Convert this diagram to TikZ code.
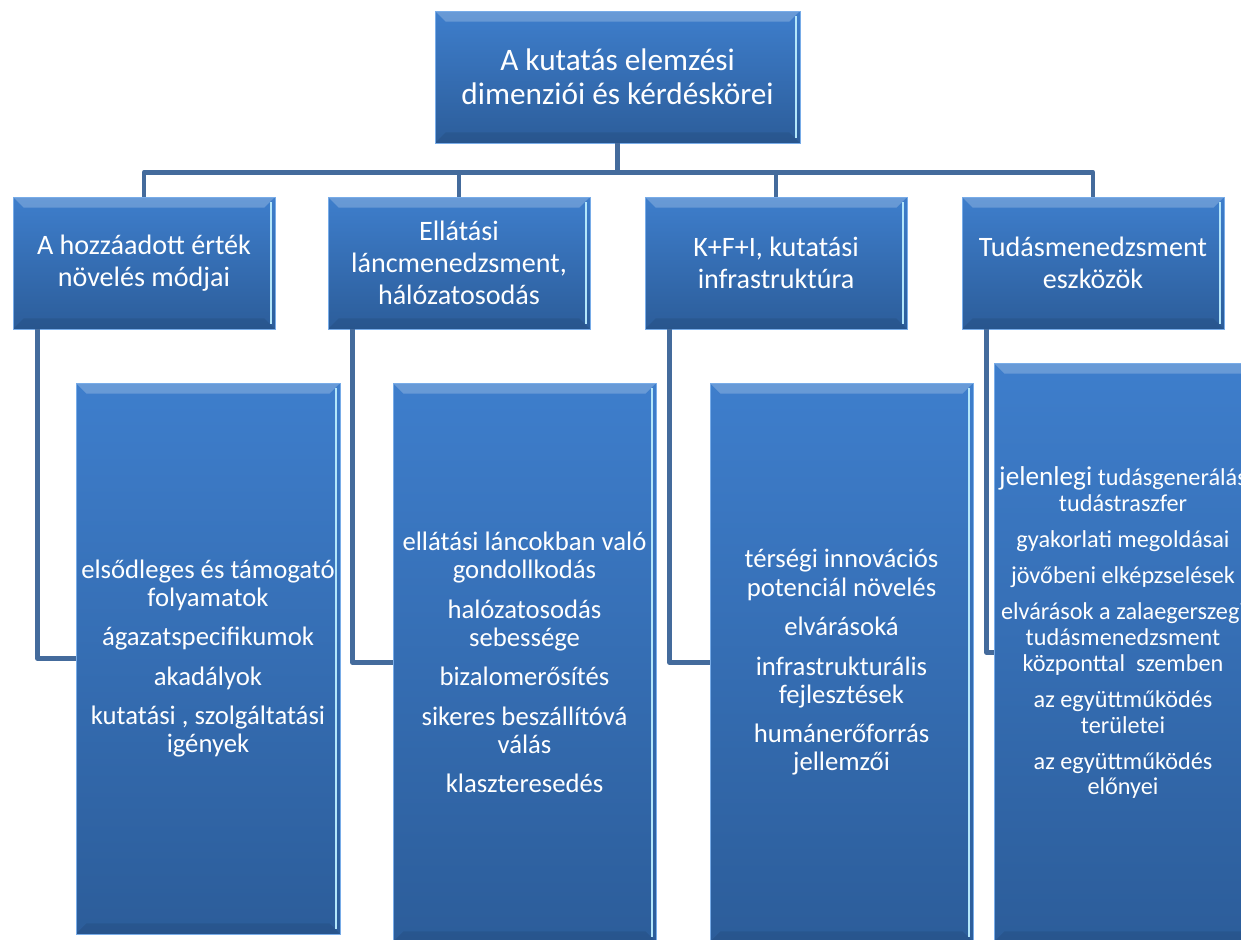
\documentclass[tikz,border=0pt]{standalone}
\usepackage{fontspec}
\setmainfont{Carlito}
\usepackage{xcolor}
\usepackage{tikz}
\usetikzlibrary{calc}
\definecolor{boxtop}{RGB}{62,126,204}
\definecolor{boxbottom}{RGB}{44,93,154}
\definecolor{boxedge}{RGB}{120,172,232}
\definecolor{linkblue}{RGB}{68,107,156}
\tikzstyle{bluebox} = [rectangle, draw=boxedge, line width=0.5pt,
top color=boxtop, bottom color=boxbottom, text=white, align=center,
inner sep=0pt, path picture={
  \fill[white, opacity=0.22] (path picture bounding box.north west) --
    (path picture bounding box.north east) --
    ([xshift=-6pt,yshift=-6pt]path picture bounding box.north east) --
    ([xshift=6pt,yshift=-6pt]path picture bounding box.north west) -- cycle;
  \fill[black, opacity=0.08] (path picture bounding box.south west) --
    (path picture bounding box.south east) --
    ([xshift=-6pt,yshift=6pt]path picture bounding box.south east) --
    ([xshift=6pt,yshift=6pt]path picture bounding box.south west) -- cycle;
  \draw[white!70!cyan, line width=1.2pt]
    ([xshift=-2.5pt,yshift=-3pt]path picture bounding box.north east) --
    ([xshift=-2.5pt,yshift=3pt]path picture bounding box.south east);
}]
\tikzstyle{rootbox} = [bluebox, minimum width=7.3cm, minimum height=2.64cm,
font=\fontsize{17.8}{19.5}\selectfont]
\tikzstyle{dimbox} = [bluebox, minimum width=5.24cm, minimum height=2.64cm,
font=\fontsize{16}{18.2}\selectfont]
\tikzstyle{itembox} = [bluebox, minimum width=5.26cm, minimum height=11.18cm,
font=\fontsize{15.2}{16}\selectfont]

\tikzstyle{link} = [draw=linkblue, line width=2.7pt, line join=round]

\begin{document}
\begin{tikzpicture}[x=0.02cm, y=-0.02cm]
    \useasboundingbox (0,0) rectangle (1241,940);
    \node [rootbox] (root) at (617.5,77) {A kutatás elemzési\\dimenziói és kérdéskörei};

    \node [dimbox] (ertek) at (144,263) {A hozzáadott érték\\növelés módjai};
    \node [dimbox] (lanc) at (459,263) {Ellátási\\láncmenedzsment,\\hálózatosodás};
    \node [dimbox] (kfi) at (776,263) {K+F+I, kutatási\\infrastruktúra};
    \node [dimbox] (tudas) at (1093,263) {Tudásmenedzsment\\eszközök};

    \node [itembox, minimum width=5.28cm, minimum height=11.02cm] (ertekitems) at (208,658.5) {%
        elsődleges és támogató\\folyamatok\\[6.5pt]
        ágazatspecifikumok\\[6.5pt]
        akadályok\\[6.5pt]
        kutatási , szolgáltatási\\igények};
    \node [itembox] (lancitems) at (524.5,662.5) {%
        ellátási láncokban való\\gondollkodás\\[6.5pt]
        halózatosodás\\sebessége\\[6.5pt]
        bizalomerősítés\\[6.5pt]
        sikeres beszállítóvá\\válás\\[6.5pt]
        klaszteresedés};
    \node [itembox] (kfiitems) at (841.5,662.5) {%
        térségi innovációs\\potenciál növelés\\[6.5pt]
        elvárásoká\\[6.5pt]
        infrastrukturális\\fejlesztések\\[6.5pt]
        humánerőforrás\\jellemzői};
    \node [itembox, minimum width=5.16cm, minimum height=11.58cm,
        font=\fontsize{13.8}{14.6}\selectfont] (tudasitems) at (1123,652.5) {%
        {\fontsize{15.5}{16}\selectfont jelenlegi} tudásgenerálás\\tudástraszfer\\[6pt]
        gyakorlati megoldásai\\[6pt]
        jövőbeni elképzselések\\[6pt]
        elvárások a zalaegerszegi\\tudásmenedzsment\\központtal\ \ szemben\\[6pt]
        az együttműködés\\területei\\[6pt]
        az együttműködés\\előnyei\\[10pt]};

    \foreach \dim in {ertek,lanc,kfi,tudas}
        \draw [link] (root.south) -- ++(0,29) -| (\dim.north);
    \foreach \dim in {ertek,lanc,kfi,tudas}
        \draw [link] ([xshift=0.5cm]\dim.south west) |- (\dim items.west);
\end{tikzpicture}
\end{document}
